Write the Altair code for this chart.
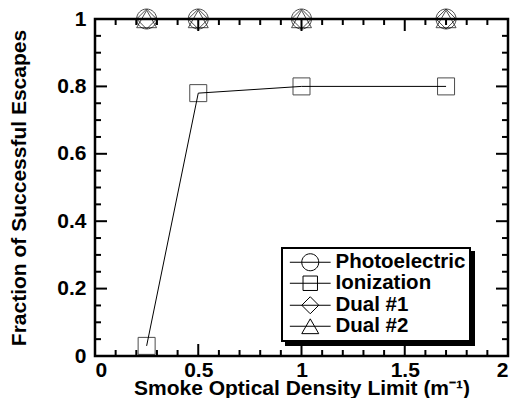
import altair as alt
import pandas as pd

# ---- data ----
series = ["Photoelectric", "Ionization", "Dual #1", "Dual #2"]
density = [0.25, 0.5, 1.0, 1.7]
photoelectric = [1.0, 1.0, 1.0, 1.0]
ionization = [0.03, 0.78, 0.80, 0.80]
dual1 = [1.0, 1.0, 1.0, 1.0]
dual2 = [1.0, 1.0, 1.0, 1.0]

x_major = [0, 0.5, 1, 1.5, 2]
x_minor = [0.1, 0.2, 0.3, 0.4, 0.6, 0.7, 0.8, 0.9, 1.1, 1.2, 1.3, 1.4, 1.6, 1.7, 1.8, 1.9]
y_major = [0, 0.2, 0.4, 0.6, 0.8, 1.0]
y_minor = [0.05, 0.1, 0.15, 0.25, 0.3, 0.35, 0.45, 0.5, 0.55, 0.65, 0.7, 0.75, 0.85, 0.9, 0.95]

W, H = 413, 337
FONT = "Liberation Sans"
LX, LY = 187, 229

rows = []
for name, vals in zip(series, [photoelectric, ionization, dual1, dual2]):
    for xv, yv in zip(density, vals):
        rows.append({"series": name, "x": xv, "y": yv})
df = pd.DataFrame(rows)

# marker paths (unit box), and legend versions with a line through
mark_paths = [
    "M1,0A1,1,0,1,1,-1,0A1,1,0,1,1,1,0Z",
    "M-0.85,-0.85H0.85V0.85H-0.85Z",
    "M0,-1L1,0L0,1L-1,0Z",
    "M0,-0.87L1,0.87L-1,0.87Z",
]
legend_paths = ["M-2.4,0H2.4" + p for p in mark_paths]

xs = alt.Scale(domain=[0, 2], nice=False, zero=False)
ys = alt.Scale(domain=[0, 1], nice=False)

xaxis = alt.Axis(values=x_major, format="~g", title="Smoke Optical Density Limit (m⁻¹)",
                 ticks=False, domain=False, grid=False, labelPadding=3,
                 titleBaseline="alphabetic", titleY=38)
yaxis = alt.Axis(values=y_major, format="~g", title="Fraction of Successful Escapes",
                 ticks=False, domain=False, grid=False, labelPadding=9, titlePadding=27)

base = alt.Chart(df)

lines = base.mark_line(color="black", strokeWidth=1).encode(
    x=alt.X("x:Q", scale=xs, axis=xaxis),
    y=alt.Y("y:Q", scale=ys, axis=yaxis),
    detail="series:N",
)

points = base.mark_point(filled=False, color="black", strokeWidth=1, size=400, clip=False).encode(
    x=alt.X("x:Q", scale=xs),
    y=alt.Y("y:Q", scale=ys),
    shape=alt.Shape("series:N", scale=alt.Scale(domain=series, range=mark_paths), legend=None),
)

legend_common = dict(
    title=None, orient="none",
    symbolSize=289, symbolOpacity=1, symbolFillColor="transparent", symbolStrokeWidth=1,
    symbolOffset=14, labelOffset=15,
    labelFont=FONT, labelFontSize=20.5, labelFontWeight="bold",
    rowPadding=0, padding=4, strokeColor="black", cornerRadius=0,
)

legend_layer = base.mark_point(filled=False, color="black", opacity=0, size=289).encode(
    x=alt.X("x:Q", scale=xs),
    y=alt.Y("y:Q", scale=ys),
    shape=alt.Shape(
        "series:N",
        scale=alt.Scale(domain=series, range=legend_paths),
        legend=alt.Legend(legendX=LX, legendY=LY, symbolStrokeColor="black",
                          labelColor="black", fillColor="white", zindex=2, **legend_common),
    ),
)

# drop shadow of the legend box: an identical legend, all black, offset down-right
shadow_layer = base.mark_point(filled=False, color="black", opacity=0, size=289).encode(
    x=alt.X("x:Q", scale=xs),
    y=alt.Y("y:Q", scale=ys),
    shape=alt.Shape(
        "series:N",
        scale=alt.Scale(domain=series, range=legend_paths),
        legend=alt.Legend(legendX=LX + 4, legendY=LY + 4, symbolStrokeColor="black",
                          labelColor="black", fillColor="black", zindex=1, **legend_common),
    ),
)

tx = pd.DataFrame({"v": x_major})
txm = pd.DataFrame({"v": x_minor})
ty = pd.DataFrame({"v": y_major})
tym = pd.DataFrame({"v": y_minor})

def xticks(d, L):
    c = alt.Chart(d).mark_rule(color="black", strokeWidth=2)
    return [
        c.encode(x=alt.X("v:Q", scale=xs), y=alt.value(H), y2=alt.value(H - L)),
        c.encode(x=alt.X("v:Q", scale=xs), y=alt.value(0), y2=alt.value(L)),
    ]

def yticks(d, L):
    c = alt.Chart(d).mark_rule(color="black", strokeWidth=2)
    return [
        c.encode(y=alt.Y("v:Q", scale=ys), x=alt.value(0), x2=alt.value(L)),
        c.encode(y=alt.Y("v:Q", scale=ys), x=alt.value(W), x2=alt.value(W - L)),
    ]

tick_layers = xticks(tx, 12) + xticks(txm, 6) + yticks(ty, 12) + yticks(tym, 6)

chart = alt.layer(
    *tick_layers, lines, points, shadow_layer, legend_layer
).resolve_scale(shape="independent").properties(
    width=W, height=H,
    autosize=alt.AutoSizeParams(type="none"),
    padding={"left": 87, "top": 11, "right": 7, "bottom": 42},
).configure_view(
    stroke="black", strokeWidth=2.5
).configure_axis(
    labelFont=FONT, labelFontSize=21, labelFontWeight="bold", labelColor="black",
    titleFont=FONT, titleFontSize=21, titleFontWeight="bold", titleColor="black",
).configure_legend(
    strokeWidth=2
)

chart.save("out.html", embed_options={"renderer": "svg", "actions": False})
